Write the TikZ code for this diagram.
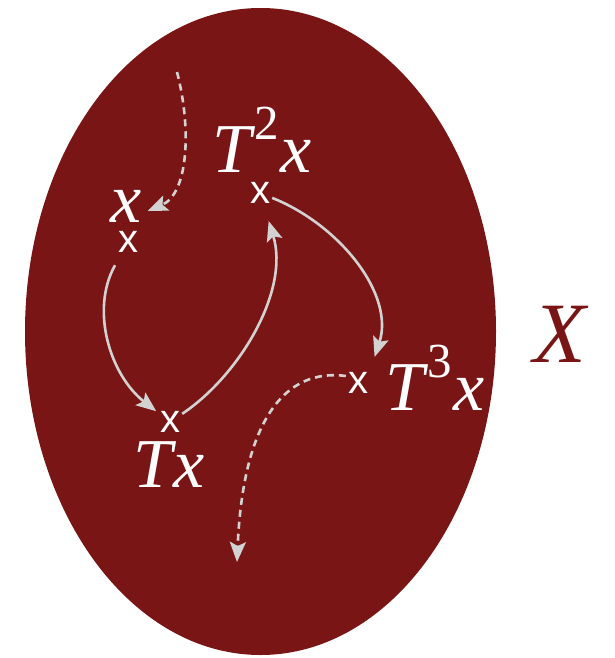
\documentclass[tikz,border=0pt]{standalone}
\usepackage{fontspec}
\setmainfont{Liberation Serif}
\newfontfamily\markfont{Liberation Sans}
\usetikzlibrary{arrows.meta}
\definecolor{orbred}{HTML}{7A1515}
\definecolor{orbgrey}{HTML}{D2D2D2}
\tikzset{
  orb set/.style={fill=orbred, draw=none},
  orb point/.style={font=\markfont\fontsize{40}{40}\selectfont, text=white, inner sep=2pt},
  orb label/.style={font=\fontsize{70}{70}\selectfont\itshape, text=white,
    inner sep=0pt, anchor=base},
  orb arrow/.style={-{Stealth[length=20pt,width=16pt,inset=4pt]}, line width=2.6pt,
    draw=orbgrey},
  orb jump/.style={orb arrow, dash pattern=on 7pt off 5pt}
}
\newcommand{\orbpow}[1]{\kern3pt\raisebox{33pt}{\upshape\fontsize{49}{49}\selectfont #1}\kern1pt}

\begin{document}
\begin{tikzpicture}[x=1pt, y=-1pt]
  \useasboundingbox (0,0) rectangle (614,658);
  \fill[orb set] (260.5,331.5) ellipse [x radius=235.5, y radius=323.5];
  % points of the orbit
  \node[orb point] (p0) at (128,242) {x};
  \node[orb point] (p1) at (170,422) {x};
  \node[orb point] (p2) at (260,193) {x};
  \node[orb point] (p3) at (358,383) {x};
  \node[orb label] (l0) at (126,222) {x};
  \node[orb label] (l1) at (169,487) {T\kern1pt x};
  \node[orb label] (l2) at (262,172) {T\orbpow{2}x};
  \node[orb label] (l3) at (435,410) {T\orbpow{3}x};
  \node[orb label, text=orbred, font=\fontsize{86}{86}\selectfont\itshape] (set) at (560,362) {X};
  \coordinate (in) at (177,72);
  \coordinate (out) at (237,562);
  % arrows
  \draw[orb jump] (in) .. controls (192,130) and (188,194) .. ([xshift=6pt,yshift=-5pt]l0.east);
  \draw[orb arrow, shorten <=12pt, shorten >=2pt] (p0) .. controls (90,310) and (110,375) .. (p1);
  \draw[orb arrow, shorten >=16pt] (p1) .. controls (240,375) and (290,290) .. (p2);
  \draw[orb arrow, shorten >=14pt] (p2) .. controls (340,225) and (395,295) .. (p3.north east);
  \draw[orb jump] (p3.150) .. controls (285,368) and (243,420) .. (out);
\end{tikzpicture}
\end{document}
